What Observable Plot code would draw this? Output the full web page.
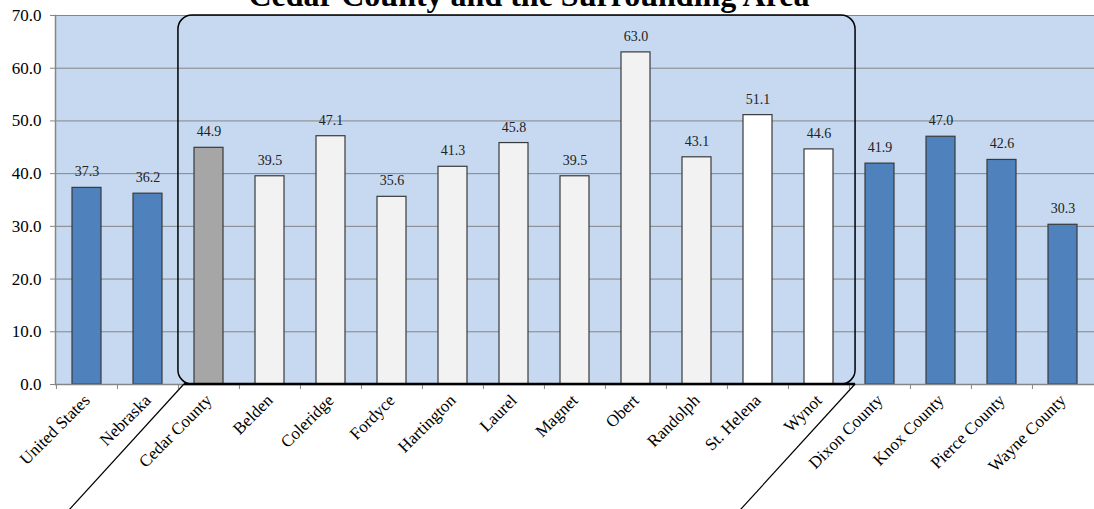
<!DOCTYPE html>
<html>
<head>
<meta charset="utf-8">
<script src="https://cdn.jsdelivr.net/npm/d3@7"></script>
<script src="https://cdn.jsdelivr.net/npm/@observablehq/plot@0.6"></script>
<style>
  html, body { margin: 0; padding: 0; background: white; }
  #chart svg { display: block; }
</style>
</head>
<body>
<div id="chart"></div>
<script>
const title = "Cedar County and the Surrounding Area";
const categories = ["United States", "Nebraska", "Cedar County", "Belden", "Coleridge", "Fordyce", "Hartington", "Laurel", "Magnet", "Obert", "Randolph", "St. Helena", "Wynot", "Dixon County", "Knox County", "Pierce County", "Wayne County"];
const values = [37.3, 36.2, 44.9, 39.5, 47.1, 35.6, 41.3, 45.8, 39.5, 63.0, 43.1, 51.1, 44.6, 41.9, 47.0, 42.6, 30.3];
const groups = ["comparison", "comparison", "county", "town", "town", "town", "town", "town", "town", "town", "town", "village", "village", "comparison", "comparison", "comparison", "comparison"];
const yTicks = [0, 10, 20, 30, 40, 50, 60, 70];
const highlightFirst = "Cedar County";
const highlightLast = "Wynot";

const data = categories.map((c, i) => ({category: c, value: values[i], group: groups[i]}));

const W = 1094, H = 509;
const mL = 55, mR = 0, mT = 15, mB = 125;
const step = (W - mL - mR) / categories.length;
const grid = "#868686";

function highlight(index, scales, values, dims) {
  const x = scales.x, y = scales.y;
  const bw = x.bandwidth ? x.bandwidth() : step * 0.48;
  const half = (step - bw) / 2;
  const left = x(highlightFirst) - half;
  const right = x(highlightLast) + bw + half + 6;
  const top = y(70), bottom = y(0);
  const r = 14;
  const g = d3.create("svg:g").attr("fill", "none").attr("stroke", "black");
  g.append("path")
    .attr("stroke-width", 1.5)
    .attr("d", `M${left + r},${top} H${right - r} A${r},${r} 0 0 1 ${right},${top + r} V${bottom - r} A${r},${r} 0 0 1 ${right - r},${bottom} H${left + r} A${r},${r} 0 0 1 ${left},${bottom - r} V${top + r} A${r},${r} 0 0 1 ${left + r},${top} Z`);
  g.append("path")
    .attr("stroke-width", 2.5)
    .attr("d", `M${left + 6},${bottom} H${right}`);
  g.append("line").attr("stroke-width", 1.2)
    .attr("x1", left + 6).attr("y1", bottom).attr("x2", left + 6 - 115).attr("y2", bottom + 126);
  g.append("line").attr("stroke-width", 1.2)
    .attr("x1", right).attr("y1", bottom).attr("x2", right - 115).attr("y2", bottom + 126);
  return g.node();
}

const plot = Plot.plot({
  width: W, height: H,
  marginLeft: mL, marginRight: mR, marginTop: mT, marginBottom: mB,
  style: {fontFamily: "'Liberation Serif', 'Times New Roman', serif", background: "white", color: "black", overflow: "visible"},
  x: {domain: categories, paddingInner: 0.52, paddingOuter: 0.26, label: null},
  y: {domain: [0, 70], label: null},
  color: {domain: ["comparison", "county", "town", "village"], range: ["#4f81bd", "#a6a6a6", "#f2f2f2", "#ffffff"]},
  marks: [
    Plot.frame({fill: "#c6d9f0", stroke: null}),
    Plot.gridY(yTicks, {stroke: grid, strokeOpacity: 1, strokeWidth: 1}),
    Plot.barY(data, {x: "category", y: "value", fill: "group", stroke: "#3a3a3a", strokeWidth: 1.2}),
    Plot.text(data, {x: "category", y: "value", text: d => d.value.toFixed(1), dy: -16, fontSize: 14, fill: "#222"}),
    Plot.ruleY([0], {stroke: grid, strokeWidth: 1.5}),
    Plot.frame({anchor: "left", stroke: grid, strokeWidth: 1.5}),
    Plot.axisY({ticks: yTicks, tickFormat: d => d.toFixed(1), tickSize: 5, tickPadding: 9, fontSize: 17, stroke: grid, label: null}),
    Plot.axisX({tickSize: 5, tickFormat: () => "", dx: -step / 2, stroke: grid, label: null}),
    Plot.axisX({tickSize: 0, tickRotate: -45, tickPadding: 13, fontSize: 17, label: null}),
    highlight,
    Plot.text([title], {frameAnchor: "top", dx: -46, dy: -10, lineAnchor: "bottom", fontSize: 32, fontWeight: "bold"})
  ]
});
document.getElementById("chart").append(plot);
</script>
</body>
</html>
